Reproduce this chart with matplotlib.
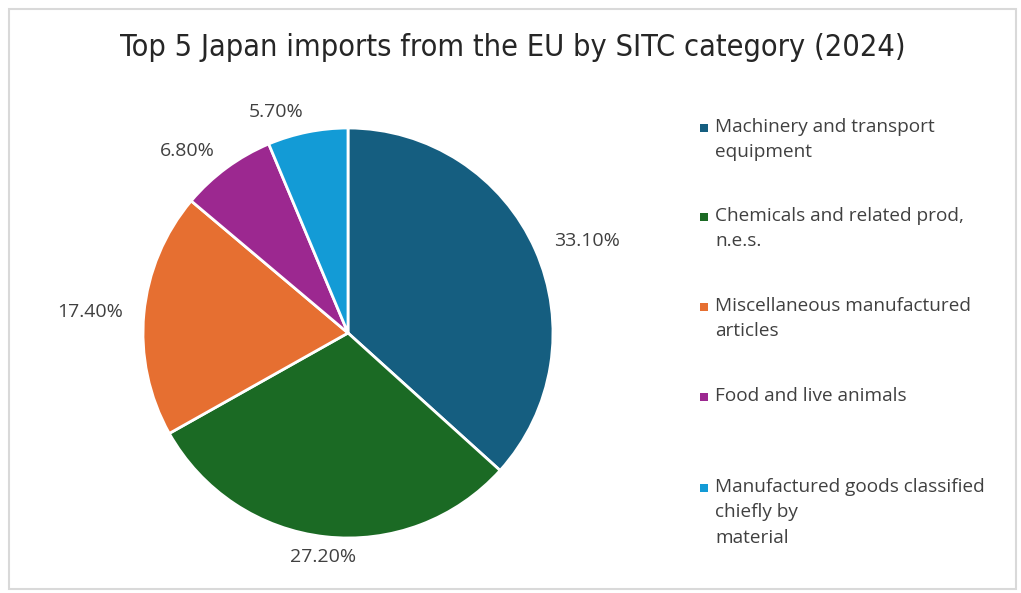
import matplotlib.pyplot as plt
from matplotlib.patches import Rectangle
import numpy as np

categories = ['Machinery and transport\nequipment',
              'Chemicals and related prod,\nn.e.s.',
              'Miscellaneous manufactured\narticles',
              'Food and live animals',
              'Manufactured goods classified\nchiefly by\nmaterial']
shares = [33.1, 27.2, 17.4, 6.8, 5.7]
pct_labels = ['33.10%', '27.20%', '17.40%', '6.80%', '5.70%']
colors = ['#155e80', '#1b6a24', '#e66f31', '#9c2890', '#139bd6']

W, H = 1021, 593
fig = plt.figure(figsize=(W / 100, H / 100), dpi=100)
fig.patch.set_facecolor('white')

# chart frame
fig.patches.append(Rectangle((9 / W, 1 - 589 / H), 1007 / W, 580 / H,
                             transform=fig.transFigure, fill=False,
                             edgecolor='#d9d9d9', linewidth=1.5))

cx, cy, r = 348, 333, 205
side = 2.5 * r
ax = fig.add_axes([(cx - side / 2) / W, (H - cy - side / 2) / H, side / W, side / H])
wedges, texts = ax.pie(shares, labels=pct_labels, colors=colors, startangle=90,
                       counterclock=False, labeldistance=1.1,
                       wedgeprops=dict(edgecolor='white', linewidth=2),
                       textprops=dict(fontsize=14, color='#404040', family='Open Sans'))
texts[1].set_ha('center')
ax.set_aspect('equal')

fig.text(513 / W, 1 - 48 / H, 'Top 5 Japan imports from the EU by SITC category (2024)',
         ha='center', va='center', fontsize=22, color='#262626',
         family='DejaVu Sans', fontstretch='condensed')

# legend
leg_top = [128, 217, 307, 397, 488]
for lab, col, y in zip(categories, colors, leg_top):
    fig.patches.append(Rectangle((700 / W, 1 - (y + 4) / H), 8 / W, 8 / H,
                                 transform=fig.transFigure, facecolor=col, edgecolor='none'))
    fig.text(715 / W, 1 - (y - 10) / H, lab, ha='left', va='top', fontsize=13.7,
             color='#404040', family='Open Sans', linespacing=1.52)

fig.savefig('out.png', dpi=100)
